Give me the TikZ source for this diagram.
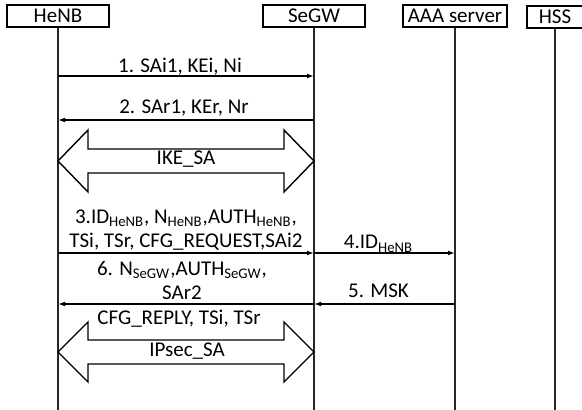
\documentclass[tikz,border=0pt]{standalone}
\usepackage{fontspec}
\setmainfont{Carlito}
\usetikzlibrary{arrows.meta,positioning}

\begin{document}
\begin{tikzpicture}[
  x=0.5pt, y=-0.5pt,
  every node/.style={font=\fontsize{10.5}{12}\selectfont},
  entity/.style={draw, line width=0.7pt, minimum height=11pt, inner sep=0pt},
  life/.style={line width=0.7pt, draw=black!85},
  msg/.style={-{Latex[length=3.5pt,width=2.4pt]}, line width=0.7pt},
  lbl/.style={align=center, inner sep=0pt},
  sa/.style={draw, line width=0.7pt, fill=white}
]
\useasboundingbox (0,0) rectangle (582,410);

\node[entity, minimum width=51pt] (henb) at (58,16) {HeNB};
\node[entity, minimum width=51pt] (segw) at (314,16) {SeGW};
\node[entity, minimum width=52pt] (aaa) at (455,16) {AAA server};
\node[entity, minimum width=28pt] (hss) at (555,17) {HSS};

\coordinate (henbend) at (58,410);
\coordinate (segwend) at (314,410);
\coordinate (aaaend) at (455,410);
\coordinate (hssend) at (555,410);

\draw[life] (henb) -- (henbend);
\draw[life] (segw) -- (segwend);
\draw[life] (aaa) -- (aaaend);
\draw[life] (hss) -- (hssend);

% message rows
\coordinate (m1) at (0,76);
\coordinate (m2) at (0,120);
\coordinate (ike) at (0,161);
\coordinate (m3) at (0,253);
\coordinate (m5) at (0,304);
\coordinate (ipsec) at (0,352);

\draw[msg] (henb |- m1) -- (segw |- m1)
  node[lbl, midway, above=0pt, xshift=-3pt] {1. SAi1, KEi, Ni};
\draw[msg] (segw |- m2) -- (henb |- m2)
  node[lbl, midway, above=1.5pt, xshift=-1pt] {2. SAr1, KEr, Nr};

\draw[sa] (henb |- ike) -- ++(30,-31) -- ++(0,19) -- ++(196,0) -- ++(0,-19)
  -- ++(30,31) -- ++(-30,31) -- ++(0,-19) -- ++(-196,0) -- ++(0,19) -- cycle;
\node[lbl, anchor=base] (ikesa) at (186,165) {IKE\_SA};

\draw[msg] (henb |- m3) -- (segw |- m3)
  node[lbl, midway, above=1pt] {3.ID\textsubscript{HeNB}, N\textsubscript{HeNB},AUTH\textsubscript{HeNB},\\TSi, TSr, CFG\_REQUEST,SAi2};
\draw[msg] (segw |- m3) -- (aaa |- m3)
  node[lbl, midway, above=0pt, xshift=-3pt] {4.ID\textsubscript{HeNB}};
\draw[msg] (aaa |- m5) -- (segw |- m5)
  node[lbl, midway, above=3pt, xshift=-3pt] {5. MSK};
\draw[msg] (segw |- m5) -- (henb |- m5)
  node[lbl, midway, above=2pt, xshift=-2pt] {6. N\textsubscript{SeGW},AUTH\textsubscript{SeGW},\\SAr2};

\draw[sa] (henb |- ipsec) -- ++(30,-30) -- ++(0,18) -- ++(196,0) -- ++(0,-18)
  -- ++(30,30) -- ++(-30,30) -- ++(0,-18) -- ++(-196,0) -- ++(0,18) -- cycle;
\node[lbl, anchor=base] (cfgreply) at (179,325) {CFG\_REPLY, TSi, TSr};
\node[lbl, anchor=base] (ipsecsa) at (187,357) {IPsec\_SA};
\end{tikzpicture}
\end{document}
